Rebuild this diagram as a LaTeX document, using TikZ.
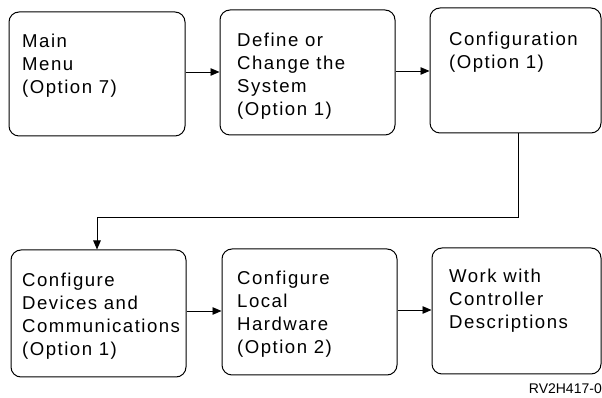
\documentclass[tikz,border=0pt]{standalone}
\usepackage{fontspec}
\setmainfont{Liberation Sans}
\newfontfamily\boxfont{Liberation Sans}[LetterSpace=8]
\usetikzlibrary{arrows.meta}
\tikzset{
  box/.style={draw=black, line width=1pt, rounded corners=10pt, inner sep=0pt},
  txt/.style={anchor=base west, inner sep=0pt},
  conn/.style={draw=black, line width=0.9pt, -{Triangle[length=9pt,width=7.5pt]}},
}
\newcommand{\boxtext}[1]{\parbox[t]{180pt}{\raggedright\boxfont\fontsize{18.6}{23}\selectfont #1}}
\begin{document}
\begin{tikzpicture}[x=1pt,y=1pt]
\useasboundingbox (0,0) rectangle (602,398);
% boxes (y = 398 - pixel y)
\node[box, minimum width=176pt, minimum height=124pt] (b1) at (97,324) {};
\node[box, minimum width=175pt, minimum height=125pt] (b2) at (307.5,325.5) {};
\node[box, minimum width=171pt, minimum height=125pt] (b3) at (515.5,327.5) {};
\node[box, minimum width=175pt, minimum height=127pt] (b4) at (98.5,84.5) {};
\node[box, minimum width=175pt, minimum height=126pt] (b5) at (309.5,86) {};
\node[box, minimum width=169pt, minimum height=126pt] (b6) at (516.5,87) {};
% texts
\node[txt] (t1) at (22,350) {\boxtext{Main\\Menu\\(Option 7)}};
\node[txt] (t2) at (237,351) {\boxtext{Define or\\Change the\\System\\(Option 1)}};
\node[txt] (t3) at (449,352) {\boxtext{Configuration\\(Option 1)}};
\node[txt] (t4) at (22,111) {\boxtext{Configure\\Devices and\\Communications\\(Option 1)}};
\node[txt] (t5) at (237,113) {\boxtext{Configure\\Local\\Hardware\\(Option 2)}};
\node[txt] (t6) at (449,115) {\boxtext{Work with\\Controller\\Descriptions}};
\node[anchor=base east, inner sep=0pt, font=\fontsize{14}{16}\selectfont] (lbl) at (602,4) {RV2H417-0};
% connectors
\draw[conn] (b1.east |- 0,326) -- (b2.west |- 0,326);
\draw[conn] (b2.east |- 0,327) -- (b3.west |- 0,327);
\coordinate (c1) at (518,181);
\coordinate (c2) at (97,181);
\draw[conn] (b3.south -| c1) -- (c1) -- (c2) -- (b4.north -| c2);
\draw[conn] (b4.east |- 0,87) -- (b5.west |- 0,87);
\draw[conn] (b5.east |- 0,88) -- (b6.west |- 0,88);
\end{tikzpicture}
\end{document}
